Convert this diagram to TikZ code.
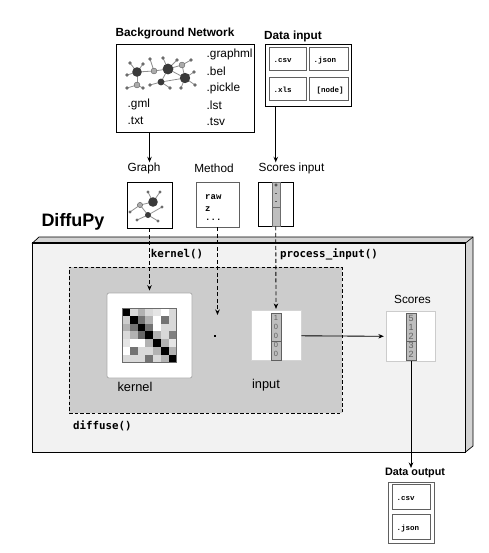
\documentclass[tikz,border=0pt]{standalone}
\usepackage{fontspec}
\setmainfont{Liberation Sans}
\setmonofont{DejaVu Sans Mono}
\newfontfamily\filefont{Liberation Mono}
\usetikzlibrary{arrows.meta,calc}

\definecolor{framefill}{HTML}{F2F2F2}
\definecolor{framedark}{HTML}{D4D4D4}
\definecolor{framepanel}{HTML}{CCCCCC}
\definecolor{netline}{HTML}{606060}
\definecolor{netedge}{HTML}{909090}
\definecolor{netsat}{HTML}{6C6C6C}
\definecolor{netlight}{HTML}{ABABAB}
\definecolor{netdark}{HTML}{3A3A3A}
\definecolor{stripfill}{HTML}{BEBEBE}

\tikzset{
    plainbox/.style={draw=black, fill=white, line width=0.7pt, minimum width=#1, inner sep=0pt},
    softbox/.style={fill=white, line width=0.8pt, inner sep=0pt},
    filebox/.style={draw=netline, fill=white, line width=0.7pt, text width=#1, inner xsep=4.5pt, inner ysep=0pt,
        align=left, font=\filefont\bfseries\fontsize{7.5}{8}\selectfont, text height=7pt, text depth=0pt},
    headtext/.style={font=\bfseries\fontsize{11.8}{13}\selectfont, inner sep=0pt},
    plaintext/.style={font=\fontsize{11.8}{13}\selectfont, inner sep=0pt},
    bigtext/.style={font=\fontsize{12.8}{14}\selectfont, inner sep=0pt},
    codetext/.style={font=\ttfamily\bfseries\fontsize{10.8}{12}\selectfont, inner sep=0pt},
    exttext/.style={font=\fontsize{11.8}{13}\selectfont, inner sep=0pt, anchor=west},
    methodtext/.style={font=\filefont\bfseries\fontsize{9}{10}\selectfont, inner sep=0pt, anchor=west},
    striptext/.style={font=\bfseries\fontsize{6}{7}\selectfont, inner sep=0pt},
    flow/.style={-{Stealth[length=5.5pt,width=4.5pt]}, line width=0.85pt},
    dflow/.style={flow, dash pattern=on 4pt off 2.5pt},
}

\begin{document}
\begin{tikzpicture}[x=1pt, y=-1pt]
    \useasboundingbox (0,0) rectangle (488,553);

    % DiffuPy frame
    \draw[fill=framedark, line width=0.7pt] (32.5,243) -- (39,237) -- (473,237) -- (473,446) -- (465.5,452) -- (465.5,243) -- cycle;
    \draw[line width=0.7pt] (465.5,243) -- (473,237);
    \draw[fill=framefill, line width=1pt] (32.5,243) rectangle (465.5,452);
    \draw[line width=1.9pt] (32,243) -- (466,243);
    \node[font=\bfseries\fontsize{18}{20}\selectfont, inner sep=0pt] (diffupy) at (73,222) {DiffuPy};
    \node[draw=black, fill=framepanel, dash pattern=on 3.5pt off 2.2pt, line width=0.6pt, minimum width=273pt, minimum height=146pt, inner sep=0pt] (panel) at (205.5,340) {};

    % top row
    \node[headtext] (bglabel) at (175,33) {Background Network};
    \node[plainbox=137.5pt, minimum height=88pt] (bgbox) at (185.25,88) {};
    \node[headtext] (datalabel) at (293,36) {Data input};
    \node[plainbox=85.5pt, minimum height=62.5pt] (databox) at (308.5,75.25) {};

    \foreach \xa/\ya/\xb/\yb in {137/72/130/63, 137/72/143/64, 137/72/127/75, 137/72/137/85, 137/85/127/88, 137/85/143/88,
                                 137/72/154/71, 154/71/150/59, 154/71/168/69, 168/69/163/58, 168/69/177/60, 168/69/185/78,
                                 161/82/150/85, 161/82/170/88, 161/82/185/78, 168/69/161/82, 168/69/182/65,
                                 182/65/191/60, 182/65/185/78, 185/78/194/72, 185/78/195/85, 185/78/181/88}
        \draw[netedge, line width=0.8pt] (\xa,\ya) -- (\xb,\yb);
    \foreach \dotx/\doty in {130/63, 143/64, 127/75, 127/88, 143/88, 150/59, 163/58, 177/60, 150/85, 170/88, 191/60, 194/72, 195/85, 181/88}
        \fill[netsat] (\dotx,\doty) circle (1.8pt);
    \foreach \dotx/\doty in {137/85, 154/71, 182/65}
        \draw[fill=netlight, draw=netsat, line width=0.5pt] (\dotx,\doty) circle (2.9pt);
    \foreach \dotx/\doty/\dotr in {137/72/4.8, 168/69/5.4, 185/78/5.2, 161/82/3.4}
        \fill[netdark] (\dotx,\doty) circle (\dotr pt);

    \node[exttext] (extgml) at (127.5,104) {.gml};
    \node[exttext] (exttxt) at (127.5,120.5) {.txt};
    \node[exttext] (extgraphml) at (206.5,54) {.graphml};
    \node[exttext] (extbel) at (206.5,71) {.bel};
    \node[exttext] (extpickle) at (206.5,88) {.pickle};
    \node[exttext] (extlst) at (206.5,105) {.lst};
    \node[exttext] (exttsv) at (206.5,122) {.tsv};

    \node[filebox=28.5pt, minimum height=23.5pt] (csvin) at (287.75,59) {.csv};
    \node[filebox=30pt, minimum height=23.5pt] (jsonin) at (328.5,59) {.json};
    \node[filebox=28.5pt, minimum height=23.5pt] (xlsin) at (287.75,89) {.xls};
    \node[filebox=30pt, minimum height=23.5pt, inner xsep=4.5pt, align=right] (nodein) at (328.5,89) {[node]};

    % middle row
    \node[plaintext] (graphlabel) at (144,168) {Graph};
    \node[plaintext] (methodlabel) at (214,168) {Method};
    \node[plaintext] (scoresinlabel) at (291.5,168) {Scores input};
    \node[plainbox=45pt, minimum height=46pt] (graphbox) at (149.5,205) {};
    \node[plainbox=43pt, draw=netline, minimum height=45pt] (methodbox) at (217.5,204.5) {};
    \node[plainbox=35.5pt, minimum height=44pt] (scoresinbox) at (275.75,204) {};

    \foreach \xa/\ya/\xb/\yb in {153/202/148/192, 153/202/160/192, 153/202/140/205, 140/205/130/212, 140/205/148/215,
                                 148/215/162/207, 148/215/137/220, 148/215/158/221}
        \draw[netedge, line width=0.8pt] (\xa,\ya) -- (\xb,\yb);
    \foreach \dotx/\doty in {148/192, 160/192, 130/212, 137/220, 158/221, 162/207}
        \fill[netsat] (\dotx,\doty) circle (1.6pt);
    \draw[fill=netlight, draw=netsat, line width=0.5pt] (140,205) circle (2.6pt);
    \fill[netdark] (153,202) circle (4.8pt);
    \fill[netdark] (148,215) circle (3pt);

    \node[methodtext] (methodraw) at (205,197.3) {raw};
    \node[methodtext] (methodz) at (205,209) {z};
    \node[methodtext] (methoddots) at (205,219.5) {...};

    \draw[draw=netsat, fill=stripfill, line width=0.7pt] (272,182) rectangle (280,226);
    \draw[draw=netsat, line width=0.5pt] (272,207) -- (280,207);
    \node[striptext] (plusin) at (276,186) {+};
    \node[striptext] (minusa) at (276,195) {-};
    \node[striptext] (minusb) at (276,203) {-};

    % inside the frame
    \node[codetext] (kernelcode) at (177,254) {kernel()};
    \node[codetext] (processcode) at (329,254) {process\_input()};
    \node[codetext, anchor=west] (diffusecode) at (73,426) {diffuse()};

    \node[draw=netlight, fill=white, rounded corners=2pt, line width=0.8pt, minimum size=85pt, inner sep=0pt] (kernelbox) at (149.5,335.5) {};
    \begin{scope}[shift={(122,308)}]
        \foreach \rowvals [count=\rownum from 0] in {
            {100,15,30,15,10,0,15},
            {20,100,55,30,0,55,15},
            {30,55,100,55,0,15,15},
            {15,30,60,100,30,15,50},
            {10,0,0,30,100,30,10},
            {0,55,15,15,30,100,30},
            {15,15,15,55,15,30,100}}{
            \foreach \cellval [count=\colnum from 0] in \rowvals
                \fill[black!\cellval] (\colnum*7.8,\rownum*7.8) rectangle ++(7.9,7.9);
        }
        \draw[netsat, line width=0.6pt] (0,0) rectangle (54.6,54.6);
    \end{scope}
    \node[bigtext] (kernellabel) at (135,387) {kernel};
    \node[fill=black, inner sep=0pt, minimum size=2.6pt] (dotop) at (215,336) {};

    \node[softbox, draw=framedark, minimum size=50pt] (inputbox) at (276,335.8) {};
    \node[bigtext] (inputlabel) at (266,385) {input};
    \node[plaintext] (scoreslabel) at (412.5,299) {Scores};
    \node[softbox, draw=framepanel, minimum size=49.5pt] (scoresbox) at (411,336.3) {};

    % score columns
    \foreach \cx/\cnum/\csize/\ctxt in {276/0/7.5/{1,0,0,0,0}, 411/1/9/{5,1,2,3,2}}{
        \draw[draw=netline, fill=stripfill, line width=0.8pt] (\cx-5,313) rectangle (\cx+5,360);
        \draw[draw=netline, line width=0.5pt] (\cx-5,341.5) -- (\cx+5,341.5);
        \foreach \digit [count=\dnum from 0] in \ctxt
            \node[font=\fontsize{\csize}{10}\selectfont, text=netline, inner sep=0pt] (digit\cnum\dnum) at (\cx,{318+\dnum*9.1}) {\digit};
    }

    % data output
    \node[font=\bfseries\fontsize{10.8}{12}\selectfont, inner sep=0pt] (outlabel) at (415,473) {Data output};
    \node[plainbox=46pt, draw=netline, minimum height=61.5pt] (outbox) at (411.3,512.75) {};
    \node[filebox=29pt, minimum height=25pt] (csvout) at (411,496.8) {.csv};
    \node[filebox=29pt, minimum height=24.7pt] (jsonout) at (411,526.7) {.json};

    % connectors
    \draw[flow] (bgbox.south -| graphbox.north) -- (graphlabel.north -| graphbox.north);
    \draw[flow] (databox.south -| scoresinbox.north) -- (scoresinlabel.north -| scoresinbox.north);
    \draw[dflow, shorten >=2pt] (graphbox.south) -- (kernelbox.north);
    \coordinate (methodend) at (methodbox.south |- 0,315);
    \draw[dflow] (methodbox.south) -- (methodend);
    \draw[dflow, shorten >=1.5pt] (scoresinbox.south) -- (inputbox.north);
    \draw[flow, shorten >=2pt] (inputbox.east) -- (scoresbox.west);
    \draw[flow] (scoresbox.south) -- (outlabel.north -| scoresbox.south);
\end{tikzpicture}
\end{document}
